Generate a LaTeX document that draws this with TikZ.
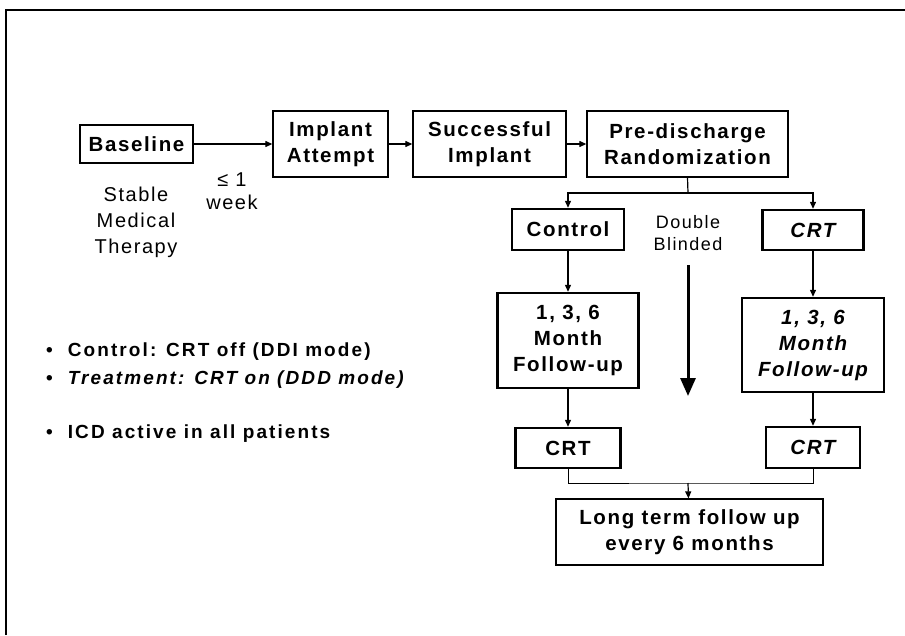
\documentclass[tikz,border=0pt]{standalone}
\usepackage{fontspec}
\setmainfont{Liberation Sans}[LetterSpace=8]
\usetikzlibrary{arrows.meta}

\tikzset{
  box/.style={draw, line width=1.3pt, align=center, inner sep=0pt,
    font=\fontsize{20.5}{26}\selectfont\bfseries},
  armbox/.style={box, line width=2.4pt},
  link/.style={line width=1.2pt, -{Triangle[length=7pt,width=6pt]}},
  note/.style={align=center, inner sep=0pt},
  bullet/.style={anchor=west, inner sep=0pt,
    font=\fontsize{19}{20}\selectfont\bfseries\addfontfeature{LetterSpace=11}}
}

\begin{document}
\begin{tikzpicture}[x=1pt, y=-1pt]
  \useasboundingbox (0,0) rectangle (905,635);
  \draw[line width=2pt] (6,635) -- (6,10) -- (905,10);

  % top row
  \node[box, minimum width=113pt, minimum height=38pt] (base) at (136.5,144) {Baseline};
  \node[box, minimum width=115pt, minimum height=66pt] (attempt) at (330.5,144) {Implant\\Attempt};
  \node[box, minimum width=153pt, minimum height=66pt] (success) at (489.5,144) {Successful\\Implant};
  \node[box, minimum width=201pt, minimum height=66pt] (rand) at (687.5,144) {Pre-discharge\\Randomization};

  \node[note, font=\fontsize{20}{26}\selectfont] (stable) at (136,222) {Stable\\Medical\\Therapy};
  \node[note, font=\fontsize{20}{23}\selectfont] (week) at (232,191) {≤ 1\\week};

  % the two arms
  \node[armbox, minimum width=112pt, minimum height=41pt] (ctrl) at (568,229.5) {Control};
  \node[armbox, minimum width=101pt, minimum height=40pt] (crtA) at (813,230) {\itshape CRT};
  \node[armbox, minimum width=141pt, minimum height=95pt] (monA) at (568,340.5) {1, 3, 6\\Month\\Follow-up};
  \node[armbox, minimum width=142pt, minimum height=94pt] (monB) at (813,345) {\itshape 1, 3, 6\\\itshape Month\\\itshape Follow-up};
  \node[armbox, minimum width=105pt, minimum height=40pt] (crtC) at (568,448) {CRT};
  \node[armbox, minimum width=94pt, minimum height=41pt] (crtD) at (813,447.5) {\itshape CRT};
  \node[box, minimum width=267pt, minimum height=66pt] (long) at (689.5,532) {Long term follow up\\every 6 months};

  \node[note, font=\fontsize{18}{22}\selectfont] (blind) at (688,233) {Double\\Blinded};
  \coordinate (dbtop) at (688,265);
  \coordinate (dbtip) at (688,396);
  \draw[line width=3pt, -{Triangle[length=18pt,width=15pt]}] (dbtop) -- (dbtip);

  % connectors
  \draw[link] (base) -- (attempt);
  \draw[link] (attempt) -- (success);
  \draw[link] (success) -- (rand);
  \coordinate (split) at (688,193);
  \draw[line width=1.2pt] (rand.south) -- (split);
  \draw[link] (split) -| (ctrl);
  \draw[link] (split) -| (crtA);
  \draw[link] (ctrl) -- (monA);
  \draw[link] (crtA) -- (monB);
  \draw[link] (monA) -- (crtC);
  \draw[link] (monB) -- (crtD);
  \coordinate (join) at (688,483);
  \draw[line width=0.8pt] (crtC.south) |- (join) -| (crtD.south);
  \draw[link] (join) -- (long);

  % notes on the left
  \node[bullet] (ctrlnote) at (46,352) {\textbullet\hspace{15pt}Control: CRT off (DDI mode)};
  \node[bullet] (treatnote) at (46,380) {\textbullet\hspace{15pt}\itshape Treatment: CRT on (DDD mode)};
  \node[bullet] (icdnote) at (46,434) {\textbullet\hspace{15pt}ICD active in all patients};
\end{tikzpicture}
\end{document}
